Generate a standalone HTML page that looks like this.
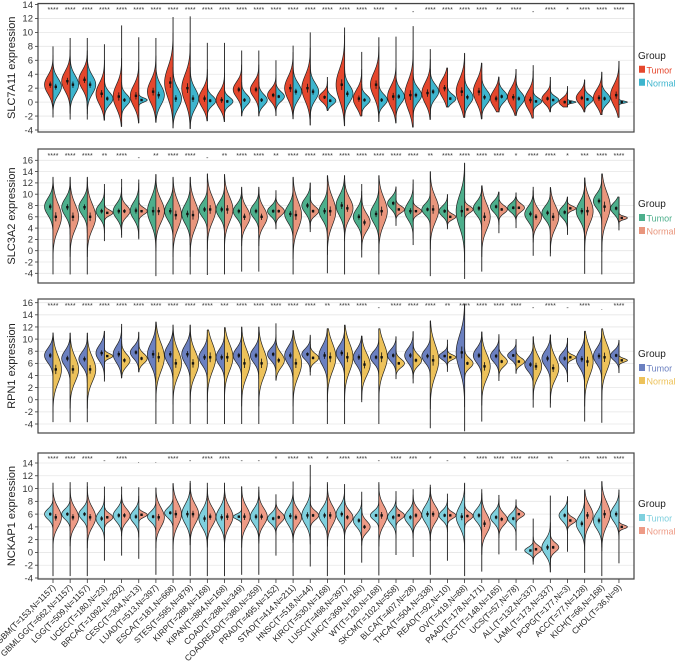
<!DOCTYPE html>
<html><head><meta charset="utf-8"><style>
body{margin:0;background:#fff}
svg{display:block;font-family:"Liberation Sans",sans-serif}
</style></head><body>
<svg id="chart" width="676" height="669" viewBox="0 0 676 669"></svg>
<script>
const categories=["GBM(T=153,N=1157)","GBMLGG(T=662,N=1157)","LGG(T=509,N=1157)","UCEC(T=180,N=23)","BRCA(T=1092,N=292)","CESC(T=304,N=13)","LUAD(T=513,N=397)","ESCA(T=181,N=668)","STES(T=595,N=879)","KIRP(T=288,N=168)","KIPAN(T=884,N=168)","COAD(T=288,N=349)","COADREAD(T=380,N=359)","PRAD(T=495,N=152)","STAD(T=414,N=211)","HNSC(T=518,N=44)","KIRC(T=530,N=168)","LUSC(T=498,N=397)","LIHC(T=369,N=160)","WT(T=120,N=168)","SKCM(T=102,N=558)","BLCA(T=407,N=28)","THCA(T=504,N=338)","READ(T=92,N=10)","OV(T=419,N=88)","PAAD(T=178,N=171)","TGCT(T=148,N=165)","UCS(T=57,N=78)","ALL(T=132,N=337)","LAML(T=173,N=337)","PCPG(T=177,N=3)","ACC(T=77,N=128)","KICH(T=66,N=168)","CHOL(T=36,N=9)"];

const p1TumorMean=[2.5,3,3.2,1.2,0.8,0.9,1.5,2.8,2,0.5,0.3,1.8,1.8,1,2,2,0.7,2.5,0.5,2.5,0.8,1,1.3,2,1.5,1.5,0.5,0.7,0.3,0.5,0,0.6,0.6,1];
const p1TumorSd=[1.3,1.4,1.3,1.5,1.7,1.5,1.6,2.2,2,1.3,1.2,1.1,1.1,0.9,1.6,1.8,0.7,2.2,1.3,1.7,1.5,2,1.5,1.3,1.8,1.6,1.2,1.3,1.3,0.8,0.6,0.9,1.2,1.5];
const p1NormalMean=[2.2,2.5,2.5,0.5,0.3,0.3,1,0.5,0.5,0.2,0.1,0.3,0.3,0.8,1.5,1.5,0.2,1.2,0.3,0.3,0.8,1,1.5,0.5,0.7,0.7,0.8,0.5,0.1,0.3,0,0.4,0.5,0];
const p1NormalSd=[1.2,1.3,1.3,0.9,0.8,0.3,1.4,1.4,1.4,0.7,0.6,0.8,0.8,0.7,1.2,1.2,0.6,1.2,0.7,0.8,1,1,1,0.6,1,1,0.8,0.9,0.5,0.5,0.15,0.6,0.8,0.15];
const p1Min=[-2.2,-2.5,-2.5,-2.6,-3.5,-3,-2.9,-3.7,-3.8,-2.7,-2.8,-2,-2,-2,-2.4,-3.3,-1.2,-3.4,-2,-2.8,-3,-3.6,-2.5,-0.7,-2.2,-2.4,-1.4,-1.9,-2.3,-1.4,-0.7,-1.4,-1.8,-2.2];
const p1Max=[8,9.2,9.2,8.3,11,9.3,9.2,12.2,12.3,8.5,8.5,7.4,7.4,6,8.1,10,3.6,10.7,7.2,9.3,9.4,10.9,7.6,4.9,7,5.6,3.6,4.7,5.3,3.6,2.3,3.2,4.3,5.9];
const p1Sig=["****","****","****","****","****","****","****","****","****","****","****","****","****","****","****","****","****","****","****","****","*","-","****","****","****","****","**","****","-","****","*","****","****","****"];

const p2TumorMean=[7.8,7.7,7.7,7,7,7.1,7,7,6.5,7.3,7.3,7,7,7,6.5,8,7,8,6,6.5,8.4,7,7.3,7,7,7.5,7.8,7.6,6.5,6.7,6.8,7,8.8,7.5];
const p2TumorSd=[1.5,1.5,1.4,1.2,1.3,1.5,2.2,1.6,1.7,1.3,1.4,1.2,1.2,0.9,1.5,1.3,1.5,1.8,1.4,1.6,1,1.5,1,0.9,2.8,1.2,1,0.8,1.3,1.2,1,1.6,1.3,1];
const p2NormalMean=[6,6,6,6.7,7,7,7,6.3,6.3,7.3,7.3,6,6,7,6.3,7,7,7.5,5,7,7.3,7,7.3,6,7.3,6,7.3,7.6,6,6,7.5,7,7.8,5.8];
const p2NormalSd=[2.3,2.2,2.2,0.5,1,0.6,2,2.3,2.3,2.2,2.2,1.6,1.6,0.8,2.4,0.8,2.4,1.8,1.5,2.3,0.6,0.6,2.2,0.5,0.6,2.2,0.7,0.7,1.4,2,0.4,2.2,2.5,0.3];
const p2Min=[-4.2,-4.2,-4.2,1.7,2.3,2,-4.5,-4.2,-4.2,-4.3,-4.2,-3.7,-3.7,3.8,-4.2,3.3,-4,-4.2,-1.2,-4.2,4.4,1,-4.5,3.8,-5,-3.7,3.1,4,-0.9,-1,2.8,-4.1,-4.2,3.6];
const p2Max=[13,13,13,11.8,12.7,12.6,13.5,13,13,13.6,13.5,11.3,11.3,10.7,13,12,13.3,13.3,11.8,13.3,11.3,12.6,14,10,15.5,11.5,10.4,10.3,11.3,11.2,9.5,12.9,13.6,9.5];
const p2Sig=["****","****","****","**","****","-","**","****","****","-","**","****","****","**","****","****","****","****","****","****","****","****","**","****","****","****","****","*","****","****","*","***","****","****"];

const p3TumorMean=[7.3,6.8,6.7,7.7,7.5,7.8,7.5,7.5,7.5,7,7,7.3,7.3,7.5,7.3,7.5,7.3,7.7,7,7,7.3,7.3,7.2,7.2,7.8,7.3,7.2,7.3,5.8,6.8,6.8,6.7,7.2,7.3];
const p3TumorSd=[1.2,1.3,1.2,1.3,1.4,1,1.8,1.5,1.5,1.3,1.3,1.2,1.2,1,1.4,0.9,1.6,1.3,1.3,1,1,1.2,1.1,0.6,2.8,1.2,1,0.7,1.1,1.3,1,1.4,1.3,0.8];
const p3NormalMean=[5,5,5,7.2,6.5,6.8,7,6,6,7,7,6,6,6.5,6,6.9,7,7,5.8,7,6,6.5,6.5,7,6,5.5,6.3,6.3,5.5,5.2,7,6.3,7,6.5];
const p3NormalSd=[2.2,2,2,0.4,1,0.8,2.3,2.1,2,2.3,2.2,2.2,2.2,1.2,2.2,0.7,2.3,2.3,1.8,2.3,0.7,0.9,2.5,0.4,0.8,2,0.8,0.6,1.7,1.8,0.4,2.3,2.2,0.3];
const p3Min=[-3.7,-3.7,-3.7,3,3.6,4.6,-4,-4,-4,-4,-4,-4,-4,3.2,-4,4,-4,-4,-0.4,-4,3.4,2.7,-4.7,4.6,-5.2,-3.6,3.1,4.3,-1.3,-1.3,2.9,-3.6,-3.8,4.4];
const p3Max=[11,11,11,11.3,12.5,11.2,12.8,12.3,12.3,11.5,11.9,12,12,12.6,11.4,10.7,11.7,12.3,10.5,11.7,10.4,11.3,13,9.9,15.8,11.2,10.8,10,10.4,10.7,10.2,11.3,11.7,9.8];
const p3Sig=["****","****","****","****","****","****","****","****","****","****","***","****","****","****","****","****","**","****","****","-","****","****","****","**","****","****","****","****","-","****","-","****",".","****"];

const p4TumorMean=[6,6,6,5.3,5.8,5.6,5.6,6.2,6,5.3,5.5,5.6,5.6,5.3,5.7,5.8,5.8,6,5,5.8,5.5,5.5,6,5.8,5.6,5.8,5.5,5.3,0.3,0.8,5.8,4.5,5,6];
const p4TumorSd=[0.8,0.8,0.9,1.1,1,1,0.8,0.8,1.5,1.4,1.4,0.4,1.2,0.8,1.3,1.4,1.2,1.2,1,0.7,1,1,1.3,0.8,1.6,1,0.9,0.8,0.5,1.2,0.9,1.3,1.3,1.2];
const p4NormalMean=[5.5,5.5,5.5,5.5,5.8,5.9,5.5,6,6,5.6,5.6,5.6,5.6,5.5,5.5,5.8,5.8,5.5,4,5.8,5.8,5.8,6,5.8,5.7,4.5,5.2,6,0.5,0.8,5,5.8,6,4];
const p4NormalSd=[1.5,1.4,1.5,0.6,1,0.4,1.5,1.7,1.5,1.4,1.5,1.5,1.3,0.8,1.2,0.7,1.5,1,0.9,1.5,0.6,1,1.3,0.5,0.6,1.5,0.9,0.5,0.6,0.7,0.5,1.5,1.8,0.3];
const p4Min=[-3.7,-3.7,-3.7,-1.3,-0.5,-1,-3.5,-3.7,-3.7,-3.7,-3.7,-3.5,-3.5,-0.5,-3.7,-2.2,-3.7,-3.5,-1.6,-3.6,-0.4,-0.7,-3.5,-1.3,-3.7,-3,-0.3,0.3,-1.9,-3.1,0.1,-3.2,-3.7,-1.7];
const p4Max=[10.9,11,11,10.3,10.3,10.2,10.1,10.8,11.2,10.9,10.9,10.3,10.3,9.1,11.1,13.7,11,10.7,9.5,11,9.6,9.9,10.6,9.2,10.9,9.9,9,8.3,5.3,8.9,8.8,9.8,11.1,9.8];
const p4Sig=["****","****","****","-","****",".",".","****","-","****","****","-","-","*","****","**","*","****","****","-","****","***","*","-","*","****","****","****","****","**","-","****","****","****"];

const p1Ticks=[-4,-2,0,2,4,6,8,10,12,14];
const p2Ticks=[-4,-2,0,2,4,6,8,10,12,14,16];
const p3Ticks=[-4,-2,0,2,4,6,8,10,12,14,16];
const p4Ticks=[-4,-2,0,2,4,6,8,10,12,14];

const panels=[
 {name:"slc7a11",title:"SLC7A11 expression",top:3.5,bottom:132,vHi:14,yHi:4.5,vLo:-4,yLo:130,tc:"#E5472D",nc:"#3DB5CE",sigY:12,
  tm:p1TumorMean,ts:p1TumorSd,nm:p1NormalMean,ns:p1NormalSd,mn:p1Min,mx:p1Max,sig:p1Sig,ticks:p1Ticks},
 {name:"slc3a2",title:"SLC3A2 expression",top:149,bottom:283,vHi:16,yHi:160.3,vLo:-4,yLo:273.3,tc:"#4DAF8C",nc:"#E9967D",sigY:158,
  tm:p2TumorMean,ts:p2TumorSd,nm:p2NormalMean,ns:p2NormalSd,mn:p2Min,mx:p2Max,sig:p2Sig,ticks:p2Ticks},
 {name:"rpn1",title:"RPN1 expression",top:299,bottom:433,vHi:16,yHi:302.7,vLo:-4,yLo:424,tc:"#6B80C0",nc:"#EDC25A",sigY:308,
  tm:p3TumorMean,ts:p3TumorSd,nm:p3NormalMean,ns:p3NormalSd,mn:p3Min,mx:p3Max,sig:p3Sig,ticks:p3Ticks},
 {name:"nckap1",title:"NCKAP1 expression",top:453,bottom:579,vHi:14,yHi:463,vLo:-4,yLo:578,tc:"#7FD0DE",nc:"#EE9B86",sigY:461,
  tm:p4TumorMean,ts:p4TumorSd,nm:p4NormalMean,ns:p4NormalSd,mn:p4Min,mx:p4Max,sig:p4Sig,ticks:p4Ticks}
];

const NS="http://www.w3.org/2000/svg";
const svg=document.getElementById('chart');
const L=38,R=634,X0=53,DX=17.15,HW=8.5;
function xs(i){return X0+i*DX;}
function mk(tag,attrs,parent){const e=document.createElementNS(NS,tag);for(const k in attrs)e.setAttribute(k,attrs[k]);(parent||svg).appendChild(e);return e;}

panels.forEach((p,pi)=>{
  const ys=v=>p.yLo+(v-p.vLo)*(p.yHi-p.yLo)/(p.vHi-p.vLo);
  const g=mk('g',{});
  
  
  mk('rect',{x:L,y:p.top,width:R-L,height:p.bottom-p.top,fill:'#fff'},g);
  p.ticks.forEach(t=>{
    const gl=mk('line',{x1:L,x2:R,y1:ys(t),y2:ys(t),stroke:'#e6e6e6','stroke-width':0.8},g);
    
    
    mk('line',{x1:L-3,x2:L,y1:ys(t),y2:ys(t),stroke:'#333','stroke-width':0.8},g);
    const tl=mk('text',{x:L-5,y:ys(t)+3.3,'text-anchor':'end','font-size':9.5,fill:'#333'},g);
    tl.textContent=t;
    
    
  });
  const cy=(p.top+p.bottom)/2;
  const yt=mk('text',{x:15,y:cy,'text-anchor':'middle','font-size':11,fill:'#222',transform:`rotate(-90 15 ${cy})`},g);
  yt.textContent=p.title;
  
  

  categories.forEach((c,i)=>{
    const x=xs(i);
    const vg=mk('g',{},g);
    
    
    mk('line',{x1:x,x2:x,y1:ys(p.mn[i]),y2:ys(p.mx[i]),stroke:'#333','stroke-width':1},vg);
    [[p.tm[i],p.ts[i],-1,p.tc],[p.nm[i],p.ns[i],1,p.nc]].forEach(([m,s,dir,col])=>{
      const a=Math.max(p.mn[i],m-3.2*s), b=Math.min(p.mx[i],m+3.2*s);
      let d=`M${x},${ys(a)}`;
      const N=30;
      for(let k=0;k<=N;k++){const v=a+(b-a)*k/N;const w=HW*Math.exp(-0.5*((v-m)/s)**2);d+=`L${(x+dir*w).toFixed(2)},${ys(v).toFixed(2)}`;}
      d+=`L${x},${ys(b)}Z`;
      const half=mk('path',{d:d,fill:col,stroke:'#222','stroke-width':0.7},vg);
      
      
      const bx=x+dir*2.8;
      mk('line',{x1:bx,x2:bx,y1:ys(m-0.35*s),y2:ys(m+0.35*s),stroke:'#111','stroke-width':0.8},vg);
      mk('rect',{x:bx-1.2,y:ys(m)-1.2,width:2.4,height:2.4,fill:'#111'},vg);
    });
    const st=mk('text',{x:x,y:p.sigY+(p.sig[i]==='-'||p.sig[i]==='.'?2:0),'text-anchor':'middle','font-size':7,fill:'#333'},g);
    st.textContent=p.sig[i];
    
    
  });
  mk('rect',{x:L,y:p.top,width:R-L,height:p.bottom-p.top,fill:'none',stroke:'#444','stroke-width':1.2},g);

  const lg=mk('g',{},g);
  
  
  const t0=mk('text',{x:638,y:cy-9,'font-size':10,fill:'#222'},lg);t0.textContent='Group';
  [['Tumor',p.tc,cy+6],['Normal',p.nc,cy+19]].forEach(([lab,col,yy])=>{
    const e=mk('g',{},lg);
    
    
    mk('rect',{x:639,y:yy-8,width:6,height:7,fill:col},e);
    const tt=mk('text',{x:646.5,y:yy-0.5,'font-size':9,fill:col},e);tt.textContent=lab;
  });
});

categories.forEach((c,i)=>{
  const x=xs(i);
  mk('line',{x1:x,x2:x,y1:579,y2:583,stroke:'#333','stroke-width':0.8});
  const t=mk('text',{x:x+3,y:588,'text-anchor':'end','font-size':8.4,fill:'#222',transform:`rotate(-45 ${x+3} 588)`});
  t.textContent=c;
  
  
});
</script>
</body></html>
